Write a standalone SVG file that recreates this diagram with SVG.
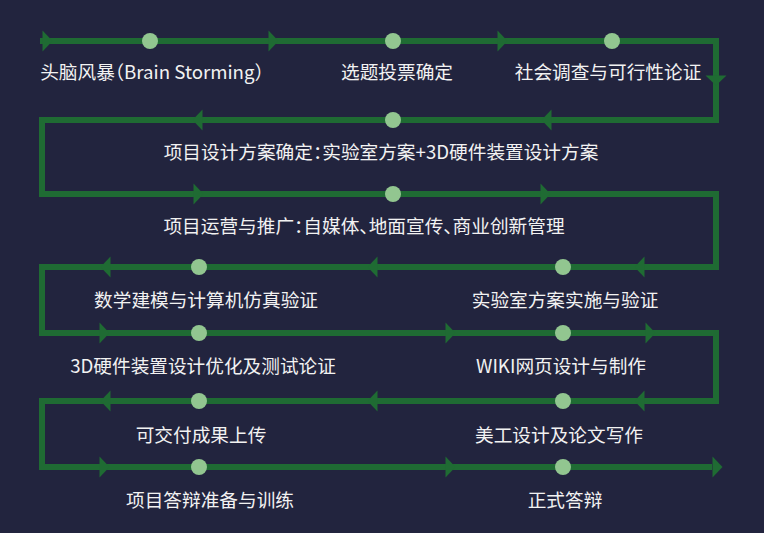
<svg xmlns="http://www.w3.org/2000/svg" xmlns:xlink="http://www.w3.org/1999/xlink" width="764" height="533" viewBox="0 0 764 533">
<style>
.bg{fill:#22243e}
.flow{fill:none;stroke:#1f6b33;stroke-width:6;stroke-linejoin:miter;stroke-linecap:butt}
.arr{fill:#1f6b33}
.dot{fill:#92c690}
.lbl{font-family:"Noto Sans CJK SC","Noto Sans",sans-serif;font-size:18.67px;fill:#f2f2f2;text-anchor:middle;font-feature-settings:"halt"}
</style>
<defs>
<path id="ar" d="M-9.5,-10.5 L0.5,0 L-9.5,10.5 Z"/>
</defs>
<rect class="bg" x="0" y="0" width="764" height="533"/>
<g id="connectors">
<path class="flow" d="M40,41 H716 V120 H42 V194 H716 V267 H42 V333 H716 V401 H42 V467 H712"/>
<g class="arr">
<use xlink:href="#ar" transform="translate(52,41)"/>
<use xlink:href="#ar" transform="translate(278,41)"/>
<use xlink:href="#ar" transform="translate(507,41)"/>
<use xlink:href="#ar" transform="translate(716,85) rotate(90)"/>
<use xlink:href="#ar" transform="translate(542,120) rotate(180)"/>
<use xlink:href="#ar" transform="translate(193,120) rotate(180)"/>
<use xlink:href="#ar" transform="translate(203,194)"/>
<use xlink:href="#ar" transform="translate(550,194)"/>
<use xlink:href="#ar" transform="translate(635,267) rotate(180)"/>
<use xlink:href="#ar" transform="translate(368,267) rotate(180)"/>
<use xlink:href="#ar" transform="translate(101,267) rotate(180)"/>
<use xlink:href="#ar" transform="translate(109,333)"/>
<use xlink:href="#ar" transform="translate(455,333)"/>
<use xlink:href="#ar" transform="translate(655,333)"/>
<use xlink:href="#ar" transform="translate(635,401) rotate(180)"/>
<use xlink:href="#ar" transform="translate(368,401) rotate(180)"/>
<use xlink:href="#ar" transform="translate(101,401) rotate(180)"/>
<use xlink:href="#ar" transform="translate(109,467)"/>
<use xlink:href="#ar" transform="translate(455,467)"/>
<use xlink:href="#ar" transform="translate(722,467)"/>
</g>
</g>
<g id="n1"><circle class="dot" cx="150" cy="41" r="8"/><text class="lbl" x="152" y="79">头脑风暴（Brain Storming）</text></g>
<g id="n2"><circle class="dot" cx="393" cy="41" r="8"/><text class="lbl" x="397" y="79">选题投票确定</text></g>
<g id="n3"><circle class="dot" cx="612" cy="41" r="8"/><text class="lbl" x="608" y="79">社会调查与可行性论证</text></g>
<g id="n4"><circle class="dot" cx="393" cy="120" r="8"/><text class="lbl" x="381" y="159">项目设计方案确定：实验室方案+3D硬件装置设计方案</text></g>
<g id="n5"><circle class="dot" cx="393" cy="194" r="8"/><text class="lbl" x="364" y="233">项目运营与推广：自媒体、地面宣传、商业创新管理</text></g>
<g id="n6"><circle class="dot" cx="563" cy="267" r="8"/><text class="lbl" x="565" y="307">实验室方案实施与验证</text></g>
<g id="n7"><circle class="dot" cx="199" cy="267" r="8"/><text class="lbl" x="206" y="307">数学建模与计算机仿真验证</text></g>
<g id="n8"><circle class="dot" cx="199" cy="333" r="8"/><text class="lbl" x="203" y="373">3D硬件装置设计优化及测试论证</text></g>
<g id="n9"><circle class="dot" cx="563" cy="333" r="8"/><text class="lbl" x="561" y="373">WIKI网页设计与制作</text></g>
<g id="n10"><circle class="dot" cx="563" cy="401" r="8"/><text class="lbl" x="559" y="442">美工设计及论文写作</text></g>
<g id="n11"><circle class="dot" cx="199" cy="401" r="8"/><text class="lbl" x="201" y="442">可交付成果上传</text></g>
<g id="n12"><circle class="dot" cx="199" cy="467" r="8"/><text class="lbl" x="210" y="507">项目答辩准备与训练</text></g>
<g id="n13"><circle class="dot" cx="563" cy="467" r="8"/><text class="lbl" x="565" y="507">正式答辩</text></g>
</svg>
